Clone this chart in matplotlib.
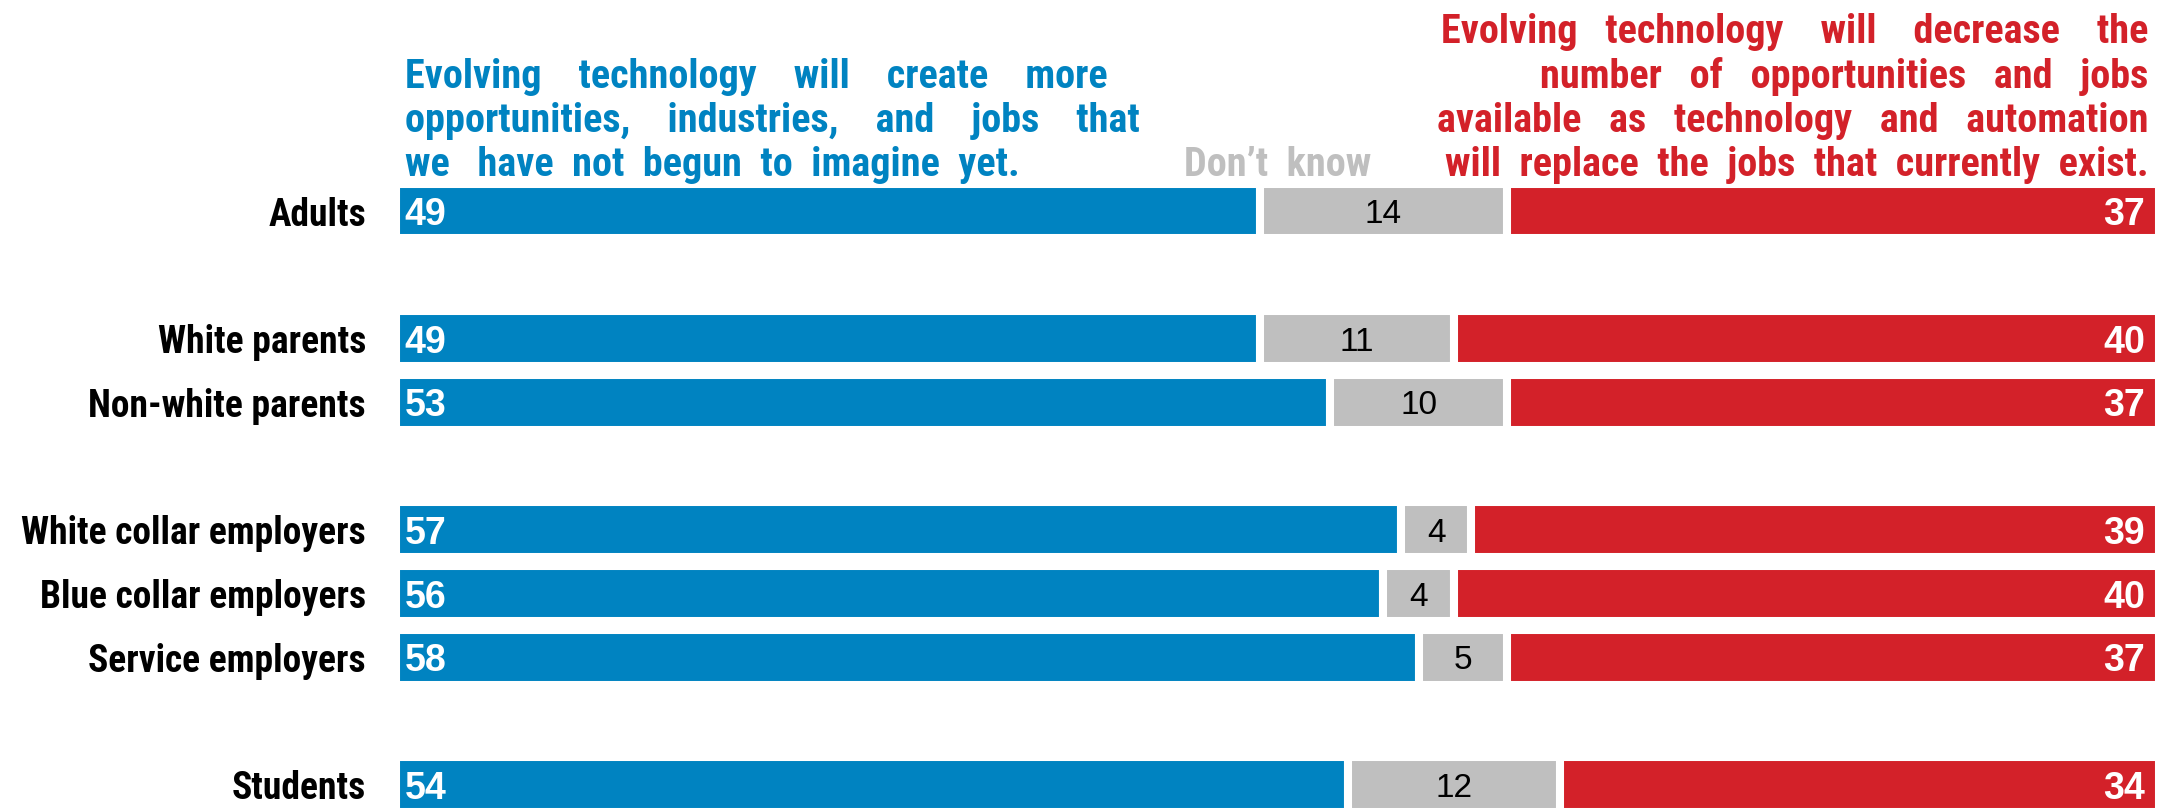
import numpy as np
import matplotlib.pyplot as plt

plt.rcParams['font.family'] = ['Roboto Condensed', 'Liberation Sans', 'DejaVu Sans']
NUMFONT = ['Liberation Sans', 'DejaVu Sans']

#data
groups = ['Adults', 'White parents', 'Non-white parents', 'White collar employers',
          'Blue collar employers', 'Service employers', 'Students']
block = [0, 1, 1, 2, 2, 2, 3]
create = [49, 49, 53, 57, 56, 58, 54]
dont_know = [14, 11, 10, 4, 4, 5, 12]
decrease = [37, 40, 37, 39, 40, 37, 34]

blue = '#0083C1'
red = '#D32129'
grey = '#BFBFBF'

W, H = 2167, 809
fig = plt.figure(figsize=(W/100, H/100), dpi=100)
ax = fig.add_axes([396/W, 0, 1763/W, 1])

y = np.arange(len(groups)) + np.array(block)
create = np.array(create)
dont_know = np.array(dont_know)
decrease = np.array(decrease)

#stacked bars, white edges give the gaps
bh = 0.86
ax.barh(y, create, height=bh, color=blue, edgecolor='white', linewidth=5.8)
ax.barh(y, dont_know, left=create, height=bh, color=grey, edgecolor='white', linewidth=5.8)
ax.barh(y, decrease, left=create+dont_know, height=bh, color=red, edgecolor='white', linewidth=5.8)

ax.set_xlim(0, 100)
ax.set_ylim(9.38, -3.31)
ax.axis('off')

for yi, c, d, r, g in zip(y, create, dont_know, decrease, groups):
    ax.text(0.5, yi, str(c), color='white', fontsize=27, fontweight='bold', family=NUMFONT,
            va='center_baseline', ha='left')
    ax.text(c + d/2, yi, str(d), color='black', fontsize=24, family=NUMFONT,
            va='center_baseline', ha='center')
    ax.text(99.2, yi, str(r), color='white', fontsize=27, fontweight='bold', family=NUMFONT,
            va='center_baseline', ha='right')
    ax.text(-1.7, yi, g, color='black', fontsize=27, fontweight='bold', va='center_baseline', ha='right')

#headers
hy = -0.42
ax.text(0.5, hy, 'Evolving    technology    will    create    more\nopportunities,    industries,    and    jobs    that\nwe   have  not  begun  to  imagine  yet.',
        color=blue, fontsize=29, fontweight='bold', ha='left', va='bottom', linespacing=1.2)
ax.text(99.4, hy, 'Evolving   technology    will    decrease    the\nnumber   of   opportunities   and   jobs\navailable   as   technology   and   automation\nwill  replace  the  jobs  that  currently  exist.',
        color=red, fontsize=29, fontweight='bold', ha='right', va='bottom', linespacing=1.2, multialignment='right')
ax.text(50.0, hy, 'Don\u2019t  know', color=grey, fontsize=29, fontweight='bold', ha='center', va='bottom')

fig.savefig('out.png', dpi=100)
